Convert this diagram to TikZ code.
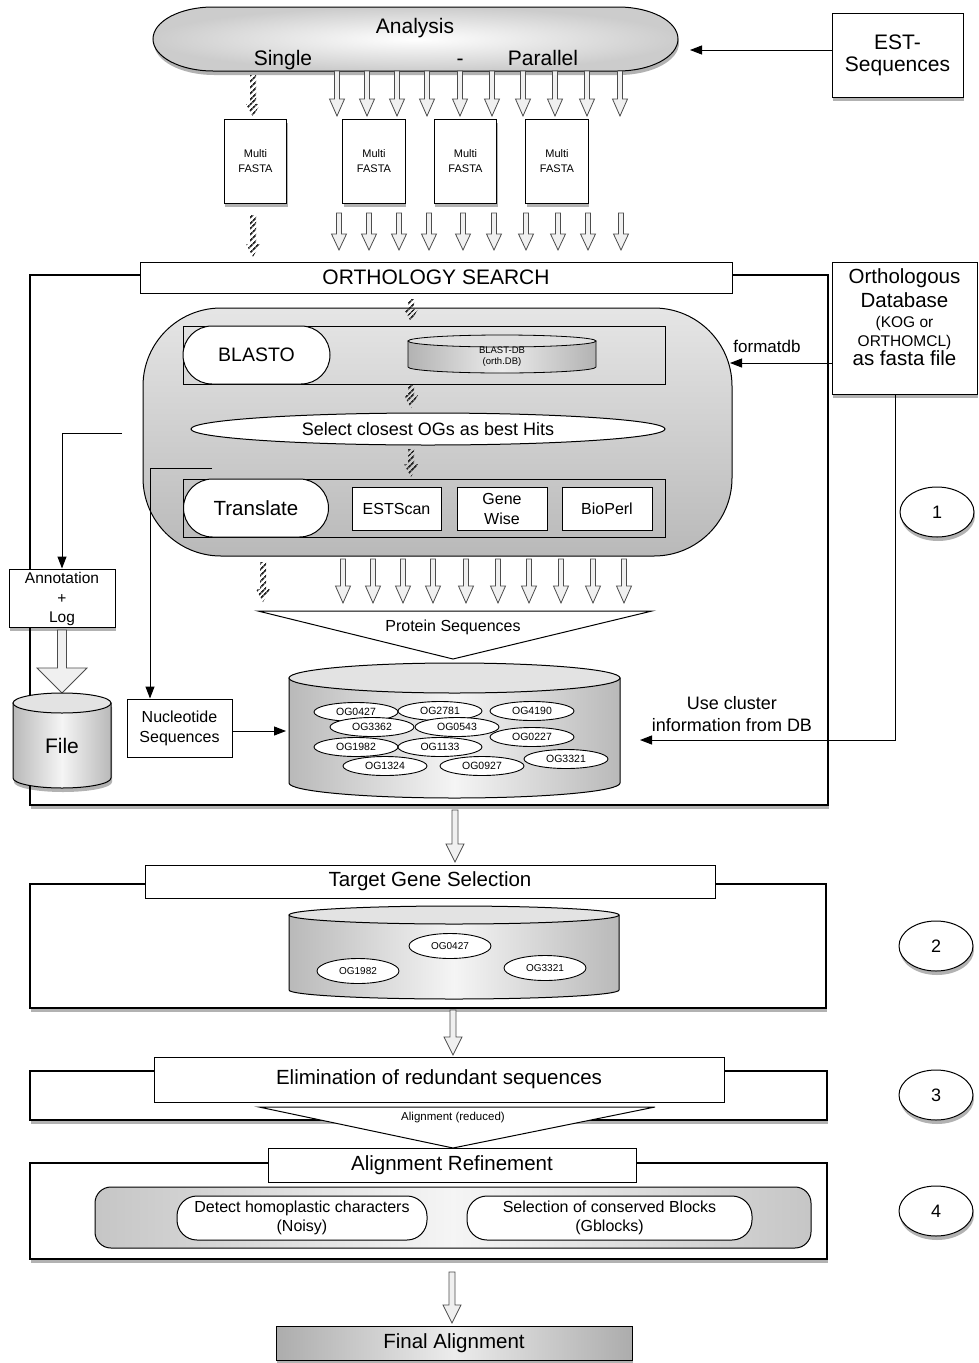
\documentclass[tikz,border=0pt]{standalone}
\usepackage{fontspec}
\setmainfont{Liberation Sans}
\usetikzlibrary{arrows.meta,shapes.geometric,shadows,patterns.meta,calc}
\newcommand\myfs[2]{\fontsize{#1pt}{#2pt}\selectfont}
\tikzset{
  box/.style={draw=black, line width=1pt, fill=white, inner sep=0pt, align=center},
  sh/.style={drop shadow={shadow xshift=1pt, shadow yshift=-4pt, opacity=0.3, fill=black}},
  harrow/.style={draw=black!70, line width=0.8pt, fill=gray!12},
  hatchfill/.style={pattern={Lines[angle=45,distance=4pt,line width=1.8pt]}, pattern color=black!85},
  arr/.style={line width=1pt, -{Triangle[length=12pt,width=9pt]}},
  circ/.style={ellipse, draw, fill=white, line width=1pt, minimum width=74pt, minimum height=50pt, inner sep=0pt, font=\myfs{18}{20}},
  ogell/.style={ellipse, draw, fill=white, line width=0.9pt, minimum width=84pt, minimum height=19pt, inner sep=0pt, font=\myfs{10.5}{12}},
  cylbody/.style={line width=1pt, left color=gray!55, right color=gray!55, middle color=gray!8},
  cyltop/.style={line width=1pt, fill=gray!22},
  big/.style={font=\myfs{21}{24}},
  title/.style={font=\myfs{20.5}{23}},
  mid/.style={font=\myfs{16}{19.5}},
}
\newcommand\hollowarrow[6]{\draw[harrow] (#1-#4,#2) -- (#1-#4,#3-#6) -- (#1-#5,#3-#6) -- (#1,#3) -- (#1+#5,#3-#6) -- (#1+#4,#3-#6) -- (#1+#4,#2) -- cycle;}
\newcommand\hatcharrow[3]{\fill[hatchfill] (#1-3,#2) -- (#1-3,#3-13) -- (#1-7,#3-13) -- (#1,#3) -- (#1+7,#3-13) -- (#1+3,#3-13) -- (#1+3,#2) -- cycle;}
\begin{document}
\begin{tikzpicture}[x=1pt,y=-1pt]
\useasboundingbox (0,0) rectangle (978,1363);
\fill[white] (0,0) rectangle (978,1363);

% ---------- top: analysis ----------
\draw[line width=1pt, sh, inner color=white, outer color=gray!40] (213,7) -- (618,7) arc[start angle=90,end angle=-90,x radius=60pt,y radius=32pt] -- (213,71) arc[start angle=270,end angle=90,x radius=60pt,y radius=32pt] -- cycle;
\node[big] (tana) at (415,28) {Analysis};
\node[big, anchor=base] (tsingle) at (283,65) {Single};
\node[big, anchor=base] (tdash) at (460,65) {-};
\node[big, anchor=base] (tpar) at (543,65) {Parallel};

\node[box, sh, minimum width=131pt, minimum height=84pt, font=\myfs{21}{22}] (est) at (897.5,55) {\rule[-6pt]{0pt}{6pt}EST-\\Sequences};
\coordinate (anaE) at (690,50);
\draw[arr] (est.west |- anaE) -- (anaE);

\foreach \x in {337,367,397,427,460,492,523,555,587,620} {\hollowarrow{\x}{71}{116}{2.5}{7.5}{17}}
\hatcharrow{253}{75}{117}

\tikzset{mfbox/.style={box, sh, minimum width=62.5pt, minimum height=84pt, font=\myfs{11}{14.5}}}
\node[mfbox] (mf1) at (255.5,161) {Multi\\FASTA};
\node[mfbox] (mf2) at (374,161) {Multi\\FASTA};
\node[mfbox] (mf3) at (465.5,161) {Multi\\FASTA};
\node[mfbox] (mf4) at (557,161) {Multi\\FASTA};

\foreach \x in {339,369,399,429,463,494,526,558,588,621} {\hollowarrow{\x}{213}{250}{2.5}{7.5}{16}}
\hatcharrow{253}{215}{257}

% ---------- section 1 ----------
\node[box, sh, line width=1.1pt, minimum width=798pt, minimum height=530pt] (sec1) at (429,540) {};
\node[box, big, minimum width=592pt, minimum height=31pt] (orth) at (436,277.5) {ORTHOLOGY SEARCH};

\node[box, sh, minimum width=145pt, minimum height=132pt] (odb) at (904.5,328) {};
\node[align=center, font=\myfs{20.5}{24}] (odbt) at (904.5,317) {Orthologous\\Database\\[-4pt]{\myfs{15.5}{18}(KOG or}\\[-5pt]{\myfs{15.5}{18}ORTHOMCL)}\\[-5pt]as fasta file};

\node[draw, line width=1pt, rounded corners=78pt, top color=gray!20, bottom color=gray!55, minimum width=589pt, minimum height=248pt, inner sep=0pt] (cap) at (437.5,432) {};

\node[draw, line width=1pt, minimum width=482pt, minimum height=58pt, inner sep=0pt] (brow) at (424,355) {};
\node[box, rounded corners=29pt, minimum width=147pt, minimum height=58pt, font=\myfs{19.5}{22}] (blasto) at (256.5,355) {BLASTO};
\draw[line width=0.8pt, left color=gray!60, right color=gray!60, middle color=gray!15] (408,341) -- (408,367) arc[start angle=180,end angle=360,x radius=94pt,y radius=6pt] -- (596,341) -- cycle;
\draw[line width=0.8pt, fill=gray!25] (502,341) ellipse [x radius=94pt, y radius=6pt];
\node[align=center, font=\myfs{9.5}{11}] (bdb) at (502,357) {BLAST-DB\\(orth.DB)};

\node[box, ellipse, minimum width=474pt, minimum height=32pt, font=\myfs{18}{20}] (sel) at (428,429) {Select closest OGs as best Hits};

\node[draw, line width=1pt, minimum width=482pt, minimum height=58pt, inner sep=0pt] (trow) at (424,508) {};
\node[box, rounded corners=29pt, minimum width=145pt, minimum height=58pt, font=\myfs{20.5}{23}] (transl) at (256,508) {Translate};
\node[box, minimum width=89pt, minimum height=43pt, font=\myfs{16}{20}] (estscan) at (396.5,508.5) {ESTScan};
\node[box, minimum width=90pt, minimum height=43pt, font=\myfs{16}{20}] (genewise) at (502,508.5) {Gene\\Wise};
\node[box, minimum width=90pt, minimum height=43pt, font=\myfs{16}{20}] (bioperl) at (607,508.5) {BioPerl};

\hatcharrow{411}{299}{322}
\hatcharrow{411}{385}{408}
\hatcharrow{411}{449}{477}

\coordinate (fmt) at (730,363);
\draw[arr] (odb.west |- fmt) -- (fmt);
\node[font=\myfs{17}{20}] (fmtl) at (767,346) {formatdb};

\node[circ, sh] (c1) at (937,512) {1};

\foreach \x in {343,373,403,433,466,498,529,561,593,624} {\hollowarrow{\x}{559}{603}{2.5}{7.5}{17}}
\hatcharrow{263}{562}{602}

\draw[line width=1pt, fill=white] (258,611) -- (652,611) -- (453,659) -- cycle;
\node[font=\myfs{16}{18}] (prot) at (453,627) {Protein Sequences};

\node[box, sh, font=\myfs{15.5}{19.5}, minimum width=106pt, minimum height=58pt] (annot) at (62,598) {\rule{0pt}{14pt}Annotation\\+\\Log};
\coordinate (l1) at (122,433);
\draw[arr] (l1) -| (annot.north);

\hollowarrow{62}{630}{693}{4.5}{25}{25}
\draw[cylbody, sh] (13,703) -- (13,778) arc[start angle=180,end angle=360,x radius=49pt,y radius=10pt] -- (111,703) -- cycle;
\draw[cyltop] (62,703) ellipse [x radius=49pt, y radius=10pt];
\node[big] (file) at (62,746) {File};

\node[box, minimum width=105pt, minimum height=58pt, font=\myfs{16}{20}] (nucl) at (179.5,728) {Nucleotide\\Sequences};
\coordinate (l2) at (212,468);
\draw[arr] (l2) -| ([xshift=-29.5pt]nucl.north);

\draw[cylbody] (289,678) -- (289,783) arc[start angle=180,end angle=360,x radius=165.5pt,y radius=15pt] -- (620,678) -- cycle;
\draw[cyltop] (454.5,678) ellipse [x radius=165.5pt, y radius=15pt];
\coordinate (cylin) at (286,731);
\draw[arr] (nucl.east |- cylin) -- (cylin);

\foreach \n/\x/\y in {OG0427/356/712, OG2781/440/711, OG4190/532/711, OG3362/372/727, OG0543/457/727, OG0227/532/737, OG1982/356/747, OG1133/440/747, OG1324/385/766, OG0927/482/766, OG3321/566/759}
  {\node[ogell] (\n) at (\x,\y) {\n};}

\coordinate (clu) at (640,740);
\draw[arr] ([xshift=-9.5pt]odb.south) |- (clu);
\node[align=center, font=\myfs{18}{22}] (clul) at (732,714) {Use cluster\\information from DB};

\hollowarrow{455}{810}{862}{3}{9}{18}

% ---------- section 2 ----------
\node[box, sh, line width=1.1pt, minimum width=796pt, minimum height=124pt] (sec2) at (428,946) {};
\node[box, title, minimum width=570pt, minimum height=33pt] (tgs) at (430,881.5) {Target Gene Selection};
\draw[cylbody] (289,915) -- (289,990) arc[start angle=180,end angle=360,x radius=165pt,y radius=9pt] -- (619,915) -- cycle;
\draw[cyltop] (454,915) ellipse [x radius=165pt, y radius=9pt];
\tikzset{og2/.style={ogell, minimum width=82pt, minimum height=25pt, font=\myfs{10}{12}}}
\node[og2] (sOG0427) at (450,946) {OG0427};
\node[og2] (sOG1982) at (358,971) {OG1982};
\node[og2] (sOG3321) at (545,968) {OG3321};
\node[circ, sh] (c2) at (936,946) {2};

\hollowarrow{453}{1010}{1055}{3}{9}{18}

% ---------- section 3 ----------
\node[box, sh, line width=1.1pt, minimum width=797pt, minimum height=49pt] (sec3) at (428.5,1095.5) {};
\node[box, title, minimum width=570pt, minimum height=45pt] (elim) at (439,1079.5) {Elimination of redundant sequences};
\draw[line width=1pt, fill=white] (259,1107) -- (655,1107) -- (453,1148) -- cycle;
\node[font=\myfs{11.5}{13}] (alr) at (453,1118) {Alignment (reduced)};
\node[circ, sh] (c3) at (936,1095) {3};

% ---------- section 4 ----------
\node[box, sh, line width=1.1pt, minimum width=797pt, minimum height=96pt] (sec4) at (428.5,1211) {};
\node[box, title, minimum width=368pt, minimum height=34pt] (ar) at (452,1165) {Alignment Refinement};
\node[draw, line width=1pt, rounded corners=16pt, left color=gray!45, right color=gray!45, middle color=gray!8, minimum width=716pt, minimum height=61pt, inner sep=0pt] (inner4) at (453,1217.5) {};
\node[box, mid, rounded corners=20pt, minimum width=250pt, minimum height=44pt] (detect) at (302,1218) {Detect homoplastic characters\\(Noisy)};
\node[box, mid, rounded corners=20pt, minimum width=285pt, minimum height=44pt] (selb) at (609.5,1218) {Selection of conserved Blocks\\(Gblocks)};
\node[circ, sh] (c4) at (936,1211) {4};

\hollowarrow{452}{1272}{1323}{3}{9}{18}
\node[draw, line width=1pt, sh, title, left color=gray!65, right color=gray!65, middle color=gray!15, minimum width=356pt, minimum height=34pt, inner sep=0pt] (final) at (454,1343) {Final Alignment};
\end{tikzpicture}
\end{document}
